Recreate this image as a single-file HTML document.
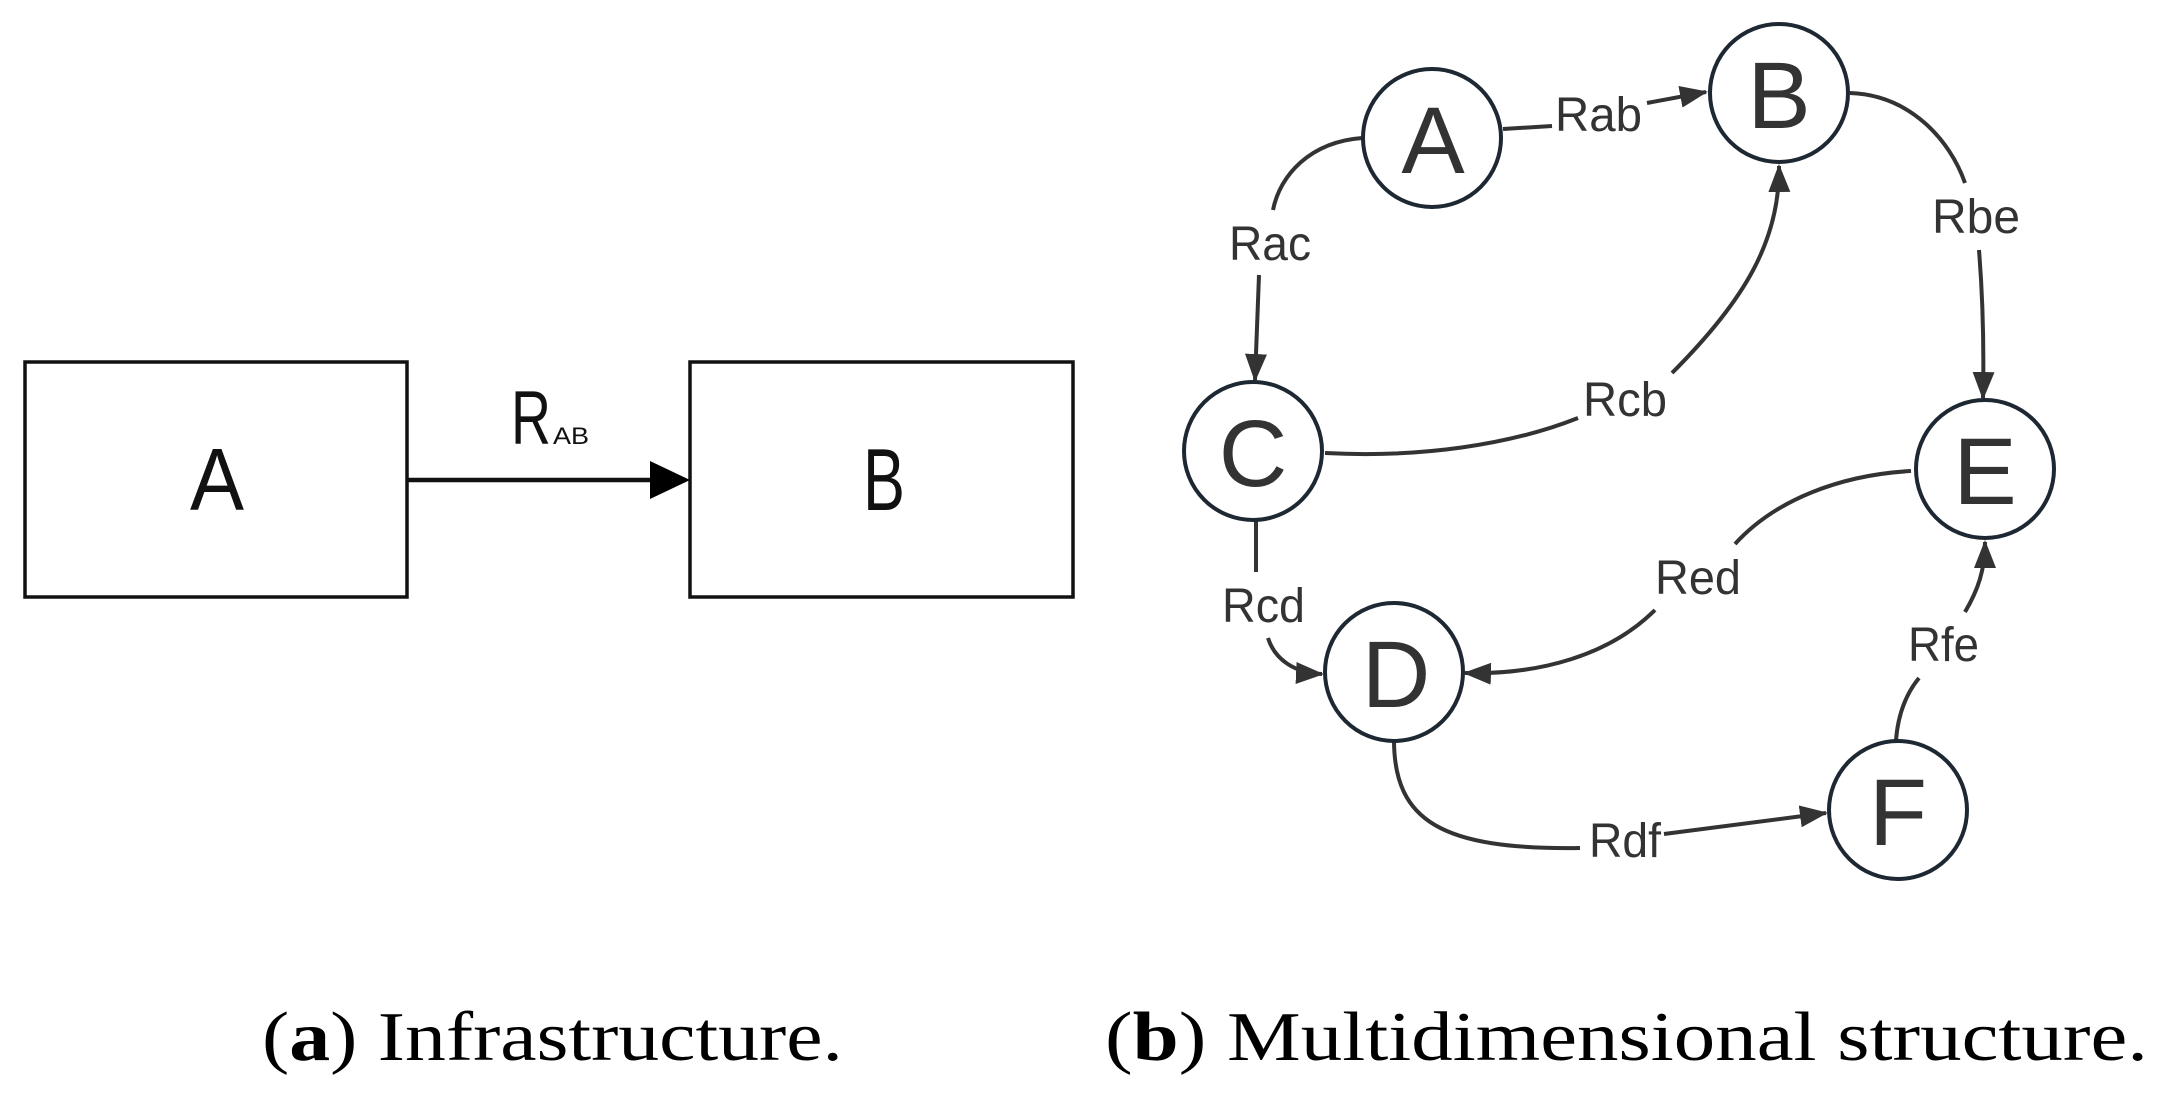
<!DOCTYPE html>
<html><head><meta charset="utf-8"><style>html,body{margin:0;padding:0;background:#fff}svg{display:block}</style></head>
<body>
<svg width="2158" height="1095" viewBox="0 0 2158 1095" xmlns="http://www.w3.org/2000/svg">
<defs>
<marker id="ah" markerWidth="7" markerHeight="5.5" refX="6.5" refY="2.75" orient="auto" markerUnits="strokeWidth">
<path d="M0,0 L7,2.75 L0,5.5 Z" fill="#333"/>
</marker>
</defs>
<rect x="25" y="362" width="382" height="235" fill="none" stroke="#111" stroke-width="3.5"/>
<rect x="690" y="362" width="383" height="235" fill="none" stroke="#111" stroke-width="3.5"/>
<line x1="407" y1="480" x2="655" y2="480" stroke="#111" stroke-width="4.5"/>
<path d="M650,461 L690,480 L650,499 Z" fill="#000"/>
<text x="217" y="510" font-family="Liberation Sans, sans-serif" font-size="88" text-anchor="middle" textLength="54" lengthAdjust="spacingAndGlyphs" fill="#111">A</text>
<text x="884" y="510" font-family="Liberation Sans, sans-serif" font-size="88" text-anchor="middle" textLength="42" lengthAdjust="spacingAndGlyphs" fill="#111">B</text>
<text x="511" y="444" font-family="Liberation Sans, sans-serif" font-size="76" textLength="40" lengthAdjust="spacingAndGlyphs" fill="#111">R</text>
<text x="553" y="444" font-family="Liberation Sans, sans-serif" font-size="24" textLength="36" lengthAdjust="spacingAndGlyphs" fill="#111">AB</text>

<g fill="none" stroke="#333" stroke-width="4">
<path d="M1503,129 L1552,126"/>
<path d="M1647,103 L1706,92" marker-end="url(#ah)"/>
<path d="M1362,138 C1310,142 1280,175 1273,210"/>
<path d="M1259,275 L1255,380" marker-end="url(#ah)"/>
<path d="M1850,93 C1910,95 1950,140 1965,183"/>
<path d="M1979,250 C1983,300 1984,350 1983,398" marker-end="url(#ah)"/>
<path d="M1325,453 C1420,458 1510,445 1578,418"/>
<path d="M1672,373 C1745,300 1780,240 1779,166" marker-end="url(#ah)"/>
<path d="M1911,471 C1840,475 1775,500 1735,544"/>
<path d="M1655,610 C1610,655 1540,675 1465,673" marker-end="url(#ah)"/>
<path d="M1256,521 L1256,572"/>
<path d="M1268,638 C1275,660 1295,673 1322,674" marker-end="url(#ah)"/>
<path d="M1394,742 C1395,820 1440,850 1580,848"/>
<path d="M1664,834 L1826,813" marker-end="url(#ah)"/>
<path d="M1896,740 C1898,715 1905,695 1919,678"/>
<path d="M1965,612 C1978,590 1985,570 1985,542" marker-end="url(#ah)"/>
</g>
<g fill="#fff" stroke="#1e2833" stroke-width="4">
<circle cx="1432" cy="138" r="69"/>
<circle cx="1779" cy="93" r="69"/>
<circle cx="1253" cy="451" r="69"/>
<circle cx="1985" cy="469" r="69"/>
<circle cx="1394" cy="672" r="69"/>
<circle cx="1898" cy="810" r="69"/>
</g>
<g font-family="Liberation Sans, sans-serif" font-size="95" fill="#333" text-anchor="middle">
<text x="1433" y="173">A</text>
<text x="1779" y="128">B</text>
<text x="1253" y="486">C</text>
<text x="1985" y="504">E</text>
<text x="1396" y="707">D</text>
<text x="1898" y="845">F</text>
</g>
<g font-family="Liberation Sans, sans-serif" font-size="48" fill="#333">
<text x="1555" y="131" textLength="87" lengthAdjust="spacingAndGlyphs">Rab</text>
<text x="1229" y="260" textLength="82" lengthAdjust="spacingAndGlyphs">Rac</text>
<text x="1932" y="233" textLength="88" lengthAdjust="spacingAndGlyphs">Rbe</text>
<text x="1583" y="416" textLength="84" lengthAdjust="spacingAndGlyphs">Rcb</text>
<text x="1655" y="594" textLength="86" lengthAdjust="spacingAndGlyphs">Red</text>
<text x="1222" y="622" textLength="83" lengthAdjust="spacingAndGlyphs">Rcd</text>
<text x="1908" y="661" textLength="71" lengthAdjust="spacingAndGlyphs">Rfe</text>
<text x="1589" y="857" textLength="72" lengthAdjust="spacingAndGlyphs">Rdf</text>
</g>
<g font-family="Liberation Serif, serif" font-size="70" fill="#000">
<text x="262" y="1060" textLength="581" lengthAdjust="spacingAndGlyphs">(<tspan font-weight="bold">a</tspan>) Infrastructure.</text>
<text x="1105" y="1060" textLength="1043" lengthAdjust="spacingAndGlyphs">(<tspan font-weight="bold">b</tspan>) Multidimensional structure.</text>
</g>
</svg>
</body></html>
